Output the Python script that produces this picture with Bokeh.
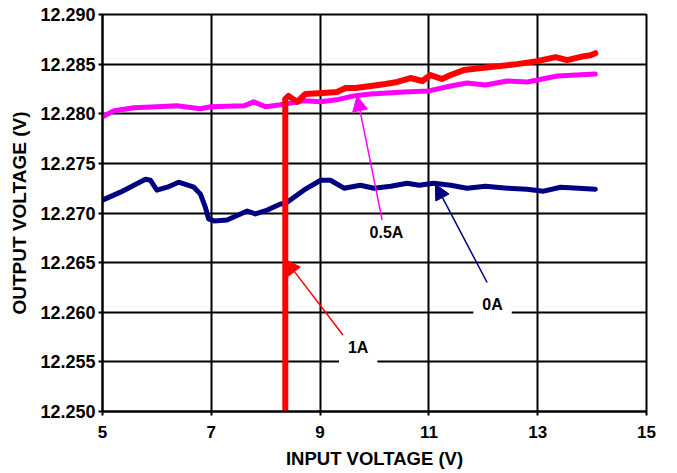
from bokeh.plotting import figure
from bokeh.models import Range1d, PrintfTickFormatter, Arrow, NormalHead, Label
from bokeh.embed import file_html
from bokeh.resources import INLINE

# ---- data ----
x_ticks = [5, 7, 9, 11, 13, 15]
y_ticks = [12.250, 12.255, 12.260, 12.265, 12.270, 12.275, 12.280, 12.285, 12.290]

x_0a = [5.0, 5.33, 5.79, 5.88, 6.0, 6.19, 6.40, 6.68, 6.80, 6.89, 6.95, 7.05, 7.29, 7.66,
        7.81, 8.03, 8.27, 8.40, 8.70, 9.01, 9.19, 9.44, 9.74, 9.99, 10.30, 10.60, 10.82,
        11.09, 11.40, 11.70, 12.04, 12.44, 12.80, 13.11, 13.42, 13.75, 14.06]
y_0a = [12.2713, 12.2721, 12.2734, 12.2733, 12.2723, 12.2726, 12.2731, 12.2726, 12.2719,
        12.2706, 12.2694, 12.2692, 12.2693, 12.2702, 12.2699, 12.2703, 12.2709, 12.2711,
        12.2723, 12.2733, 12.2733, 12.2725, 12.2728, 12.2725, 12.2727, 12.2730, 12.2728,
        12.2730, 12.2728, 12.2725, 12.2727, 12.2725, 12.2724, 12.2722, 12.2726, 12.2725,
        12.2724]

x_05a = [5.0, 5.21, 5.58, 6.0, 6.37, 6.80, 6.99, 7.60, 7.78, 8.00, 8.27, 8.70, 9.01, 9.30,
         9.62, 9.93, 10.54, 11.0, 11.40, 11.70, 12.04, 12.44, 12.81, 13.36, 14.06]
y_05a = [12.2797, 12.2803, 12.2806, 12.2807, 12.2808, 12.2805, 12.2807, 12.2808, 12.2812,
         12.2807, 12.2809, 12.2813, 12.2812, 12.2814, 12.2818, 12.2820, 12.2822, 12.2823,
         12.2828, 12.2831, 12.2829, 12.2833, 12.2832, 12.2838, 12.2840]

x_1a = [8.36, 8.36, 8.42, 8.50, 8.58, 8.73, 9.05, 9.31, 9.47, 9.65, 9.93, 10.20, 10.42,
        10.66, 10.88, 11.03, 11.24, 11.40, 11.64, 12.13, 12.62, 12.99, 13.33, 13.54, 13.85,
        13.97, 14.06]
y_1a = [12.2490, 12.2815, 12.2818, 12.2815, 12.2812, 12.2820, 12.2821, 12.2822, 12.2826,
        12.2826, 12.2828, 12.2830, 12.2832, 12.2836, 12.2833, 12.2839, 12.2835, 12.2839,
        12.2844, 12.2847, 12.2850, 12.2853, 12.2857, 12.2854, 12.2858, 12.2859, 12.2861]

FONT = "Liberation Sans"

p = figure(width=669, height=471, output_backend="svg", toolbar_location=None,
           x_range=Range1d(5, 15), y_range=Range1d(12.25, 12.29),
           min_border_left=102, min_border_right=23, min_border_top=14, min_border_bottom=60,
           x_axis_label="INPUT VOLTAGE (V)", y_axis_label="OUTPUT VOLTAGE (V)")

p.xaxis.ticker = x_ticks
p.yaxis.ticker = y_ticks
p.yaxis.formatter = PrintfTickFormatter(format="%.3f")

for ax in (p.xaxis[0], p.yaxis[0]):
    ax.axis_line_color = "black"
    ax.axis_line_width = 2
    ax.major_tick_line_color = "black"
    ax.major_tick_line_width = 2
    ax.major_tick_out = 4
    ax.major_tick_in = 0
    ax.minor_tick_line_color = None
    ax.major_label_text_font = FONT
    ax.major_label_text_font_style = "bold"
    ax.major_label_text_color = "black"
    ax.axis_label_text_font = FONT
    ax.axis_label_text_font_style = "bold"
    ax.axis_label_text_color = "black"

p.xaxis.major_label_text_font_size = "17px"
p.yaxis.major_label_text_font_size = "18px"
p.xaxis.axis_label_text_font_size = "18.5px"
p.yaxis.axis_label_text_font_size = "19px"

p.xaxis.major_label_standoff = 10
p.xaxis.axis_label_standoff = 7
p.yaxis.major_label_standoff = 3
p.yaxis.axis_label_standoff = 7

p.xgrid.grid_line_color = "black"
p.xgrid.grid_line_width = 2
p.ygrid.grid_line_color = "black"
p.ygrid.grid_line_width = 2
p.outline_line_color = "black"
p.outline_line_width = 2
p.outline_line_alpha = 1

p.line(x_0a, y_0a, line_color="#000080", line_width=5, line_join="round", line_cap="round")
p.line(x_05a, y_05a, line_color="#FF00FF", line_width=5, line_join="round", line_cap="round")
p.line(x_1a, y_1a, line_color="#FF0000", line_width=6, line_join="round", line_cap="round")

# annotation labels with white boxes
for tx, ty, txt in [(9.70, 12.2564, "1A"), (10.22, 12.2680, "0.5A"), (12.17, 12.2608, "0A")]:
    p.add_layout(Label(x=tx, y=ty, text=txt, text_align="center", text_baseline="middle",
                       text_font=FONT, text_font_style="bold", text_font_size="16px",
                       text_color="black", background_fill_color="white",
                       padding=9))

# arrows
for (xs, ys, xe, ye, col) in [(9.42, 12.2577, 8.36, 12.2653, "#FF0000"),
                              (10.14, 12.2693, 9.68, 12.2818, "#FF00FF"),
                              (12.07, 12.2630, 11.12, 12.2729, "#000080")]:
    p.add_layout(Arrow(end=NormalHead(size=15, fill_color=col, line_color=col, line_width=1),
                       x_start=xs, y_start=ys, x_end=xe, y_end=ye,
                       line_color=col, line_width=1.5))

open("out.html", "w").write(file_html(p, INLINE))
